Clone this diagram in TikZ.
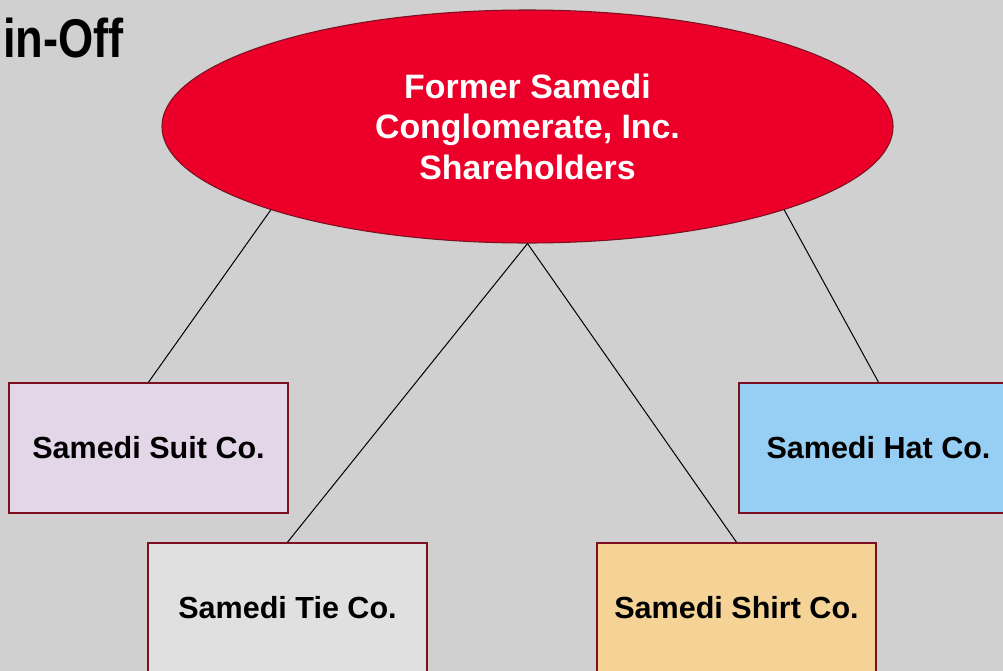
\documentclass[tikz,border=0pt]{standalone}
\usepackage{fontspec}
\setmainfont{Liberation Sans}
\usetikzlibrary{shapes.geometric}
\definecolor{bggray}{RGB}{208,208,208}
\definecolor{ovalred}{RGB}{236,0,41}
\definecolor{edgered}{RGB}{125,16,32}
\definecolor{suitc}{RGB}{226,214,232}
\definecolor{hatc}{RGB}{151,206,243}
\definecolor{tiec}{RGB}{224,224,224}
\definecolor{shirtc}{RGB}{245,211,150}
\tikzset{
  company/.style={draw=edgered, line width=1.2pt, rectangle, inner sep=0pt,
    minimum width=209.25pt, minimum height=97.5pt,
    font=\fontsize{22.9}{27}\selectfont\bfseries, text=black},
  holders/.style={ellipse, draw=edgered, line width=0.8pt, fill=ovalred, inner sep=0pt,
    minimum width=548.25pt, minimum height=174.75pt, align=center, text=white,
    font=\fontsize{25.4}{30.4}\selectfont\bfseries},
  link/.style={draw=black, line width=0.75pt}
}
\begin{document}
\begin{tikzpicture}[x=0.75pt, y=-0.75pt]
  \useasboundingbox (0,0) rectangle (1003,671);
  \fill[bggray] (0,0) rectangle (1003,671);
  \clip (0,0) rectangle (1003,671);

  % heading
  \node[anchor=base west, inner sep=0pt, font=\fontsize{40.9}{45}\selectfont\bfseries]
    (title) at (3,57) {\scalebox{0.83}[1]{in-Off}};

  % shareholders
  \node[holders] (ell) at (527.5,126.5) {Former Samedi\\Conglomerate, Inc.\\Shareholders};

  % spun-off companies
  \node[company, fill=suitc]  (suit)  at (148.5,448)  {Samedi Suit Co.};
  \node[company, fill=hatc]   (hat)   at (878.5,448)  {Samedi Hat Co.};
  \node[company, fill=tiec]   (tie)   at (287.5,608)  {Samedi Tie Co.};
  \node[company, fill=shirtc] (shirt) at (736.5,608)  {Samedi Shirt Co.};

  % ownership links
  \draw[link] (ell.198.3) -- (suit.north);
  \draw[link] (ell.342.2) -- (hat.north);
  \draw[link] (ell.south) -- (tie.north);
  \draw[link] (ell.south) -- (shirt.north);
\end{tikzpicture}
\end{document}
